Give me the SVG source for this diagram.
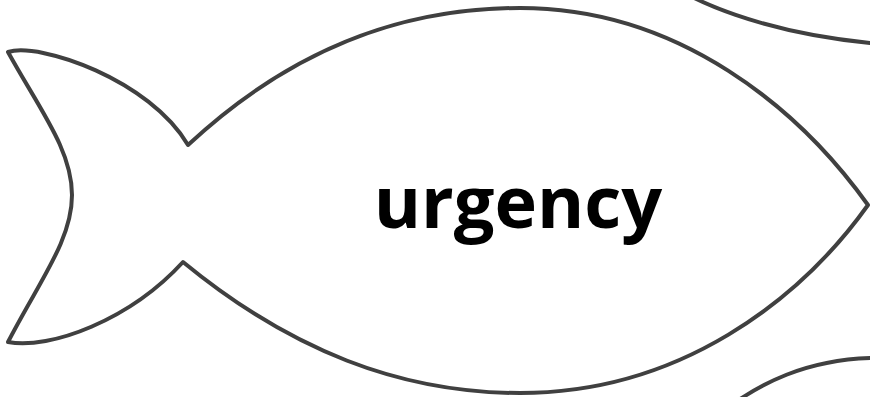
<svg xmlns="http://www.w3.org/2000/svg" width="870" height="397" viewBox="0 0 870 397">
<style>
.fish{fill:#fff;stroke:#404040;stroke-width:4;stroke-linejoin:round}
.lbl{font-family:"Open Sans","Liberation Sans",sans-serif;font-weight:bold;font-size:72px;fill:#000;text-anchor:middle}
</style>
<rect width="870" height="397" fill="#fff"/>
<g id="fish-top">
<path class="fish" d="M 665,-20 C 690,0 760,32 870,43 L 900,43 L 900,-20 Z"/>
</g>
<g id="fish-bottom">
<path class="fish" d="M 712,420 C 760,380 810,360 870,358 L 900,358 L 900,420 Z"/>
</g>
<g id="fish-urgency">
<path class="fish" d="M 8,52 C 40,42 150,80 188,145 C 290,50 400,8 520,8 C 680,8 800,110 868,205 C 800,300 680,393 520,393 C 400,393 290,350 183,262 C 130,320 50,350 8,342 C 40,280 72,240 72,195 C 72,150 40,110 8,52 Z"/>
<text class="lbl" x="518" y="228">urgency</text>
</g>
<g id="connectors"/>
</svg>
